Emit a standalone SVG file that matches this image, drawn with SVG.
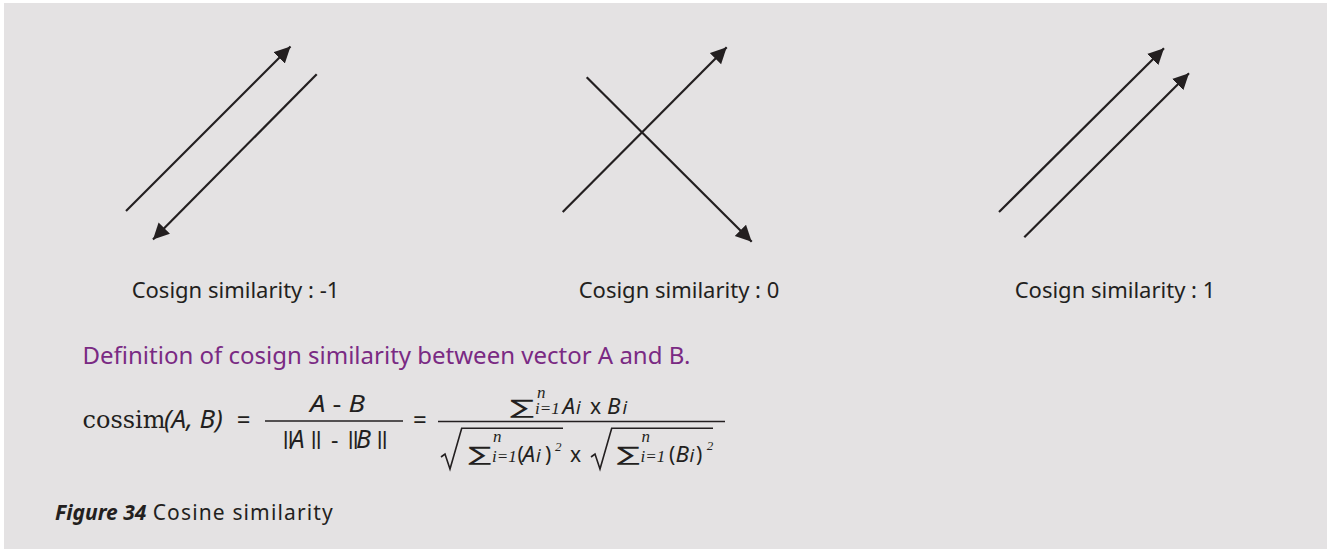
<svg xmlns="http://www.w3.org/2000/svg" width="1327" height="549" viewBox="0 0 1327 549">
<style>
.bg{fill:#e4e2e3}
.vec{stroke:#231f20;stroke-width:2.2;fill:none}
.lbl{font-family:"Noto Sans","Open Sans",sans-serif;font-size:22px;fill:#231f20}
.def{font-family:"Noto Sans","Open Sans",sans-serif;font-size:24px;fill:#7a2a83}
.m{font-family:"Noto Sans","Open Sans",sans-serif;font-size:21px;fill:#231f20}
.it{font-style:italic}
.ser{font-family:"DejaVu Serif",serif;font-size:24px;fill:#231f20}
.seri{font-family:"Liberation Serif",serif;font-style:italic;font-size:17px}
.sup2{font-family:"Liberation Serif",serif;font-style:italic;font-size:13px}
.sum{font-family:"DejaVu Sans",sans-serif;font-size:20px;fill:#231f20}
.small{font-style:italic;font-size:18px}
.bars{font-size:17px;font-weight:bold}
.bar{stroke:#231f20;stroke-width:1.3;fill:none}
.rad{stroke:#231f20;stroke-width:1.6;fill:none;stroke-linejoin:miter}
.cap{font-family:"Noto Sans","Open Sans",sans-serif;font-size:21px;fill:#231f20}
</style>
<defs>
<marker id="ah" markerUnits="userSpaceOnUse" markerWidth="17" markerHeight="17" refX="16" refY="8" orient="auto" viewBox="0 0 17 17">
<path d="M0,0 L16,8 L0,16 Z" fill="#231f20"/>
</marker>
</defs>
<rect x="0" y="0" width="1327" height="549" fill="#ffffff"/>
<rect class="bg" x="4" y="3" width="1323" height="546"/>
<g id="connectors">
<line class="vec" x1="126" y1="211" x2="290.5" y2="46.5" marker-end="url(#ah)"/>
<line class="vec" x1="316.7" y1="74.3" x2="153" y2="239.5" marker-end="url(#ah)"/>
<line class="vec" x1="562.7" y1="212" x2="726.7" y2="47.3" marker-end="url(#ah)"/>
<line class="vec" x1="586.7" y1="77.3" x2="751.7" y2="241.7" marker-end="url(#ah)"/>
<line class="vec" x1="999" y1="212" x2="1164" y2="48.3" marker-end="url(#ah)"/>
<line class="vec" x1="1024.3" y1="237.3" x2="1189" y2="73.3" marker-end="url(#ah)"/>
</g>
<g id="panel-neg1"><text class="lbl" x="235.5" y="298" text-anchor="middle">Cosign similarity : -1</text></g>
<g id="panel-0"><text class="lbl" x="679" y="298" text-anchor="middle">Cosign similarity : 0</text></g>
<g id="panel-1"><text class="lbl" x="1115" y="298" text-anchor="middle">Cosign similarity : 1</text></g>
<g id="definition"><text class="def" x="82.5" y="364">Definition of cosign similarity between vector A and B.</text></g>
<g id="formula">
<text class="m" y="428"><tspan class="ser" x="82.5">cossim</tspan><tspan class="it" x="164" font-size="26">(A, B)</tspan><tspan x="236.7" font-size="24">=</tspan><tspan x="413" font-size="24">=</tspan></text>
<text class="m" x="337.5" y="412.3" text-anchor="middle" style="font-size:24px" textLength="55" lengthAdjust="spacingAndGlyphs"><tspan class="it">A</tspan> - <tspan class="it">B</tspan></text>
<line class="bar" x1="265" y1="421" x2="403" y2="421"/>
<text class="m"><tspan class="bars" x="281" y="444.5">|</tspan><tspan class="bars" x="286">|</tspan><tspan class="it" x="290.5" y="448.3" font-size="25">A</tspan><tspan class="bars" x="309" y="444.5">|</tspan><tspan class="bars" x="314">|</tspan><tspan x="331" y="448.3" font-size="23">-</tspan><tspan class="bars" x="346" y="444.5">|</tspan><tspan class="bars" x="351">|</tspan><tspan class="it" x="356" y="448.3" font-size="25">B</tspan><tspan class="bars" x="375" y="444.5">|</tspan><tspan class="bars" x="380">|</tspan></text>
<line class="bar" x1="438" y1="421.5" x2="725" y2="421.5"/>
<text class="sum" x="510" y="414" textLength="24" lengthAdjust="spacingAndGlyphs">∑</text>
<text class="m"><tspan class="seri" x="537" y="398">n</tspan><tspan class="seri" x="535" y="414">i=1</tspan><tspan class="it" x="562.5" y="414" font-size="22.5">A</tspan><tspan class="small" x="576">i</tspan><tspan x="590">x</tspan><tspan class="it" x="607" font-size="22.5">B</tspan><tspan class="small" x="622.5">i</tspan></text>
<path class="rad" d="M441,457 L445,454 L450,469 L461.7,428.3 L563,428.3"/>
<text class="sum" x="468.3" y="461" textLength="23" lengthAdjust="spacingAndGlyphs">∑</text>
<text class="m"><tspan class="seri" x="493" y="442">n</tspan><tspan class="seri" x="492" y="462">i=1</tspan><tspan x="517.5">(</tspan><tspan class="it" x="522.5" font-size="22.5">A</tspan><tspan class="small" x="536">i</tspan><tspan x="545">)</tspan><tspan class="sup2" x="555" y="451">2</tspan><tspan x="570" y="462">x</tspan></text>
<path class="rad" d="M591,457 L595,454 L600,469 L611.7,428.3 L713,428.3"/>
<text class="sum" x="616.7" y="461" textLength="23" lengthAdjust="spacingAndGlyphs">∑</text>
<text class="m"><tspan class="seri" x="641.5" y="442">n</tspan><tspan class="seri" x="640.5" y="462">i=1</tspan><tspan x="669">(</tspan><tspan class="it" x="675.5" font-size="22.5">B</tspan><tspan class="small" x="689.5">i</tspan><tspan x="696">)</tspan><tspan class="sup2" x="706.7" y="450">2</tspan></text>
</g>
<g id="caption"><text class="cap" x="55" y="520" font-weight="bold" font-style="italic">Figure 34</text><text class="cap" x="152.7" y="520" textLength="180">Cosine similarity</text></g>
</svg>
